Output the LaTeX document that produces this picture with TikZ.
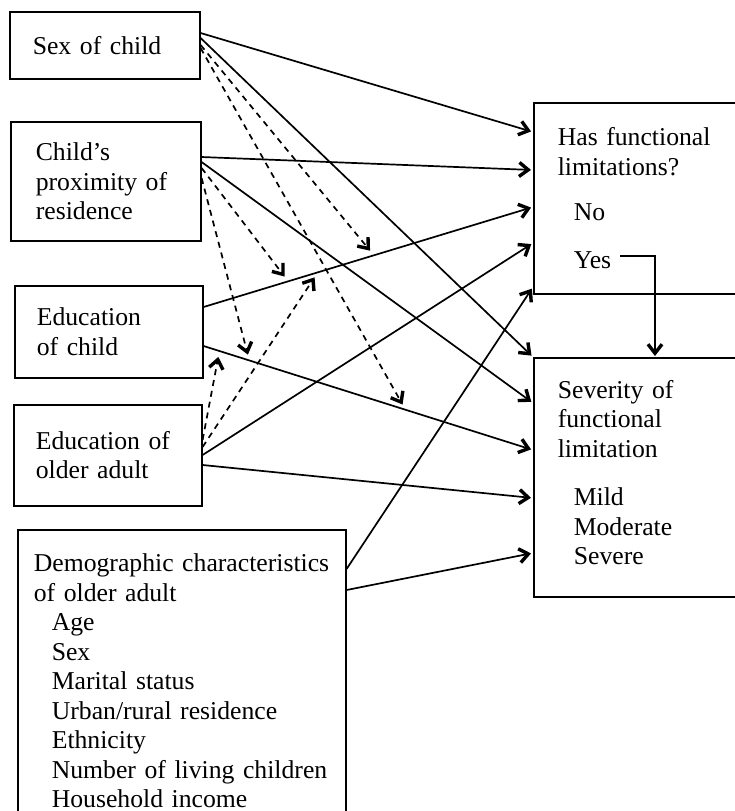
\documentclass[tikz,border=0pt]{standalone}
\usepackage{fontspec}
\setmainfont{Liberation Serif}
\usetikzlibrary{arrows.meta,calc}

\tikzset{
  box/.style={draw, line width=0.8pt, anchor=north west, align=left, inner ysep=0pt},
  conn/.style={line width=0.85pt, -{Straight Barb[length=4.5pt,width=7pt,line width=1.7pt]}, shorten >=1pt},
  modline/.style={conn, dash pattern=on 3pt off 2.5pt, shorten >=3pt},
}

\begin{document}
\begin{tikzpicture}[x=0.5pt, y=-0.5pt, font=\fontsize{12.85pt}{14.75pt}\selectfont]
        % Page frame
        \useasboundingbox (0,0) rectangle (735,811);

        % Explanatory boxes
        \node[box, minimum width=95pt, minimum height=33.5pt, inner xsep=11.5pt, text width=72pt] (sex) at (9,11) {Sex of child};
        \node[box, minimum width=95pt, minimum height=59.5pt, inner xsep=12.5pt, text width=70pt] (prox) at (10,121) {Child’s\\proximity of\\residence};
        \node[box, minimum width=94pt, minimum height=46pt, inner xsep=11pt, text width=72pt] (edc) at (14,285) {Education\\of child};
        \node[box, minimum width=94pt, minimum height=50.5pt, inner xsep=11pt, text width=72pt] (edo) at (13,404) {Education of\\older adult};
        \node[box, minimum width=164pt, minimum height=151pt, inner xsep=8pt, text width=148pt] (demo) at (17,529)
          {Demographic characteristics\\of older adult\\\hspace*{9pt}Age\\\hspace*{9pt}Sex\\\hspace*{9pt}Marital status\\\hspace*{9pt}Urban/rural residence\\\hspace*{9pt}Ethnicity\\\hspace*{9pt}Number of living children\\\hspace*{9pt}Household income};

        % Outcome boxes
        \node[box, minimum width=105pt, minimum height=95.5pt, inner xsep=12pt, text width=81pt] (has) at (533,102)
          {Has functional\\limitations?\\[8pt]\hspace*{8pt}No\\[9pt]\hspace*{8pt}Yes};
        \node[box, minimum width=105pt, minimum height=119.5pt, inner xsep=12pt, text width=81pt] (sev) at (533,357)
          {Severity of\\functional\\limitation\\[9.5pt]\hspace*{8pt}Mild\\\hspace*{8pt}Moderate\\\hspace*{8pt}Severe\rule[-5pt]{0pt}{5pt}};

        % Paths to first outcome
        \draw[conn] ($(sex.north east)+(0,22)$) -- ($(has.north west)+(0,30)$);
        \draw[conn] ($(prox.north east)+(0,36)$) -- ($(has.north west)+(0,68)$);
        \draw[conn] ($(edc.north east)+(0,22)$) -- coordinate[pos=0.257] (hasA) coordinate[pos=0.347] (hasB) coordinate[pos=0.517] (hasC) ($(has.north west)+(0,105)$);
        \draw[conn] ($(edo.north east)+(0,51)$) -- ($(has.north west)+(0,141)$);
        \draw[conn] ($(demo.north east)+(0,40)$) -- ($(has.north west)+(0,185)$);

        % Paths to second outcome
        \draw[conn] ($(sex.north east)+(0,27)$) -- (sev.north west);
        \draw[conn] ($(prox.north east)+(0,41)$) -- ($(sev.north west)+(0,46)$);
        \draw[conn] ($(edc.north east)+(0,61)$) -- coordinate[pos=0.048] (sevA) coordinate[pos=0.139] (sevB) coordinate[pos=0.613] (sevC) ($(sev.north west)+(0,93)$);
        \draw[conn] ($(edo.north east)+(0,61)$) -- ($(sev.north west)+(0,141)$);
        \draw[conn] ($(demo.north east)+(0,61)$) -- ($(sev.north west)+(0,196)$);

        % Moderating paths
        \draw[modline] ($(sex.north east)+(0,34)$) -- (hasC);
        \draw[modline] ($(sex.north east)+(0,37)$) -- (sevC);
        \draw[modline] ($(prox.north east)+(0,47)$) -- (hasA);
        \draw[modline] ($(prox.north east)+(0,57)$) -- (sevB);
        \draw[modline] ($(edo.north east)+(0,36)$) -- (sevA);
        \draw[modline] ($(edo.north east)+(0,43)$) -- (hasB);

        % Yes leads to severity
        \coordinate (yes) at ($(has.north west)+(87,154)$);
        \draw[conn, shorten >=0.5pt] (yes) -| ($(sev.north west)+(122,0)$);

      \end{tikzpicture}
\end{document}
